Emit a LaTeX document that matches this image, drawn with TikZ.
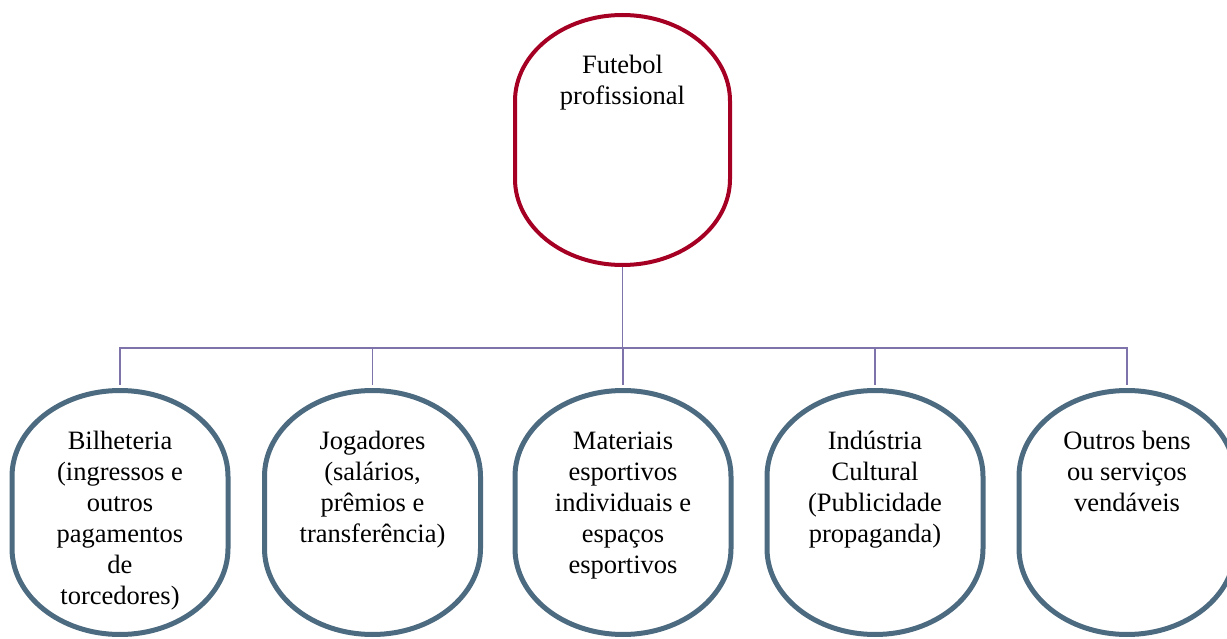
\documentclass[tikz,border=0pt]{standalone}
\usepackage{fontspec}
\setmainfont{Liberation Serif}
\usetikzlibrary{calc}
\definecolor{topred}{RGB}{165,0,36}
\definecolor{boxblue}{RGB}{76,106,128}
\definecolor{connpurple}{RGB}{126,116,171}
\newcommand\drawoval[4]{% style, node, rx, ry
  \draw[#1] ([yshift=-#4]#2.north west)
    arc[start angle=180,end angle=90,x radius=#3,y radius=#4]
    -- ([xshift=-#3]#2.north east)
    arc[start angle=90,end angle=0,x radius=#3,y radius=#4]
    -- ([yshift=#4]#2.south east)
    arc[start angle=0,end angle=-90,x radius=#3,y radius=#4]
    -- ([xshift=#3]#2.south west)
    arc[start angle=-90,end angle=-180,x radius=#3,y radius=#4]
    -- cycle;}
\newcommand\ovaltext[3]{\parbox[c][#1][t]{#2}{\centering\fontsize{26.5}{31}\selectfont\rule{0pt}{59pt}#3}}
\tikzset{
  oval/.style={inner sep=0pt,outer sep=0pt,shape=rectangle,anchor=center},
  redline/.style={draw=topred,line width=4pt},
  blueline/.style={draw=boxblue,line width=5pt},
  conn/.style={draw=connpurple,line width=1.8pt}
}
\begin{document}
\begin{tikzpicture}[x=1pt,y=1pt]
\useasboundingbox (0,0) rectangle (1227,-639);
\clip (0,0) rectangle (1227,-639);
\node[oval] (top) at (622.5,-140) {\ovaltext{250pt}{215pt}{Futebol\\profissional}};
\node[oval] (b1) at (120,-512.5) {\ovaltext{244pt}{216pt}{Bilheteria\\(ingressos e\\outros\\pagamentos\\de\\torcedores)}};
\node[oval] (b2) at (372.5,-512.5) {\ovaltext{244pt}{216pt}{Jogadores\\(salários,\\prêmios e\\transferência)}};
\node[oval] (b3) at (623,-512.5) {\ovaltext{244pt}{216pt}{Materiais\\esportivos\\individuais e\\espaços\\esportivos}};
\node[oval] (b4) at (875,-512.5) {\ovaltext{244pt}{216pt}{Indústria\\Cultural\\(Publicidade\\propaganda)}};
\node[oval] (b5) at (1127,-512.5) {\ovaltext{244pt}{216pt}{Outros bens\\ou serviços\\vendáveis}};
\drawoval{redline}{top}{107.5pt}{86pt}
\foreach \n in {b1,b2,b3,b4,b5}{\drawoval{blueline}{\n}{108pt}{86pt}}
\coordinate (bus) at (0,-348);
\foreach \n in {b1,b2,b3,b4,b5}{
  \draw[conn,shorten <=2pt,shorten >=6pt] (top.south) -- (top.south |- bus) -| (\n.north);
}
\end{tikzpicture}
\end{document}
